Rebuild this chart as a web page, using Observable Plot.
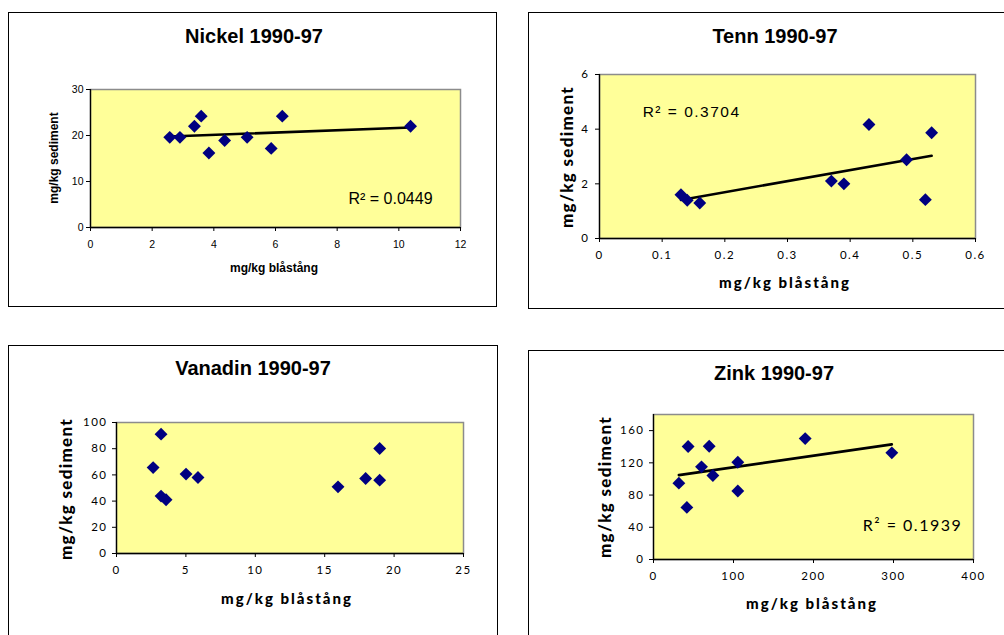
<!DOCTYPE html>
<html>
<head>
<meta charset="utf-8">
<script src="https://cdn.jsdelivr.net/npm/d3@7"></script>
<script src="https://cdn.jsdelivr.net/npm/@observablehq/plot@0.6"></script>
<style>
  body { margin: 0; background: #fff; }
  #page { position: relative; width: 1004px; height: 635px; overflow: hidden; background: #fff; }
  .panel { position: absolute; border: 1px solid #000; box-sizing: border-box; }
  .title { position: absolute; transform: translate(-50%, -50%); white-space: nowrap;
           font: bold 20px "Liberation Sans", Arial, sans-serif; color: #000; }
  .lab { position: absolute; white-space: nowrap; color: #000; font-weight: bold; }
  .ylab { transform: translate(-50%, -50%) rotate(-90deg); }
  .xlab { transform: translate(-50%, -50%); }
  .arial { font-family: "Liberation Sans", Arial, sans-serif; font-size: 12px; }
  .chart { position: absolute; }
</style>
</head>
<body>
<div id="page"></div>
<script>
// ---- data ----
const nickelX = [2.57, 2.9, 3.37, 3.59, 3.84, 4.35, 5.08, 5.86, 6.22, 10.38];
const nickelY = [19.6, 19.6, 22.0, 24.2, 16.2, 18.9, 19.6, 17.2, 24.2, 22.0];
const tennX = [0.13, 0.14, 0.16, 0.37, 0.39, 0.43, 0.49, 0.52, 0.53];
const tennY = [1.6, 1.4, 1.3, 2.1, 2.0, 4.17, 2.88, 1.42, 3.87];
const vanadinX = [2.64, 3.21, 3.21, 3.57, 5.01, 5.87, 15.96, 17.95, 18.96, 18.96];
const vanadinY = [65.6, 91.1, 43.8, 41.0, 60.6, 58.0, 50.9, 57.3, 80.2, 56.0];
const zinkX = [31.7, 41.7, 43.3, 60, 69.6, 74.2, 105.4, 105.4, 189.6, 297.9];
const zinkY = [94.8, 64.7, 140.2, 115, 140.6, 104.3, 120.8, 85, 150.1, 132.4];

const titles = ["Nickel 1990-97", "Tenn 1990-97", "Vanadin 1990-97", "Zink 1990-97"];
const xLabel = "mg/kg blåstång";
const yLabel = "mg/kg sediment";

const nickelXTicks = [0, 2, 4, 6, 8, 10, 12];
const nickelYTicks = [0, 10, 20, 30];
const tennXTicks = [0, 0.1, 0.2, 0.3, 0.4, 0.5, 0.6];
const tennYTicks = [0, 2, 4, 6];
const vanadinXTicks = [0, 5, 10, 15, 20, 25];
const vanadinYTicks = [0, 20, 40, 60, 80, 100];
const zinkXTicks = [0, 100, 200, 300, 400];
const zinkYTicks = [0, 40, 80, 120, 160];
const zinkYMax = 180;

// R² annotations (anchored in data units)
const nickelR2 = [{x: 9.73, y: 6.3, text: "R² = 0.0449"}];
const tennR2 = [{x: 0.147, y: 4.61, text: "R² = 0.3704"}];
const zinkR2 = [{x: 323.75, y: 42.2, text: "R² = 0.1939"}];

const page = document.getElementById("page");

function addDiv(cls, text, cx, cy, extra) {
  const d = document.createElement("div");
  d.className = cls;
  d.textContent = text;
  d.style.left = cx + "px";
  d.style.top = cy + "px";
  if (extra) Object.assign(d.style, extra);
  page.appendChild(d);
}

function panelBox(l, t, r, b) {
  const d = document.createElement("div");
  d.className = "panel";
  d.style.left = l + "px"; d.style.top = t + "px";
  d.style.width = (r - l) + "px"; d.style.height = (b - t) + "px";
  page.appendChild(d);
}

function chart(cfg) {
  const data = cfg.xs.map((x, i) => ({x, y: cfg.ys[i]}));
  const marks = [
    Plot.frame({fill: "#ffff99", stroke: "#8c8c8c", strokeWidth: 1.5}),
    Plot.ruleX([cfg.xDomain[0]], {stroke: "#000", strokeWidth: 1.3}),
    Plot.ruleY([cfg.yDomain[0]], {stroke: "#000", strokeWidth: 1.3}),
    Plot.axisX({ticks: cfg.xTicks, tickSize: 4, tickPadding: cfg.xPad, label: null,
                tickFormat: d => String(d), stroke: "#000"}),
    Plot.axisY({ticks: cfg.yTicks, tickSize: 4, tickPadding: cfg.yPad, label: null,
                tickFormat: d => String(d), stroke: "#000"})
  ];
  if (cfg.trend) {
    marks.push(Plot.linearRegressionY(data, {x: "x", y: "y", ci: 0, stroke: "#000", strokeWidth: 2.6}));
  }
  marks.push(Plot.dot(data, {x: "x", y: "y", symbol: "diamond2", r: 5.8, fill: "#000080", stroke: "none"}));
  if (cfg.r2) {
    marks.push(Plot.text(cfg.r2, {x: "x", y: "y", text: "text", fontSize: cfg.r2Size,
      fontFamily: cfg.r2Font, fill: "#000", textAnchor: "middle", letterSpacing: cfg.r2Spacing}));
  }
  const svg = Plot.plot({
    width: cfg.W, height: cfg.H,
    marginLeft: cfg.mL, marginRight: cfg.mR, marginTop: cfg.mT, marginBottom: cfg.mB,
    x: {domain: cfg.xDomain},
    y: {domain: cfg.yDomain},
    style: {fontFamily: cfg.font, fontSize: cfg.fontSize, letterSpacing: cfg.spacing, color: "#000", background: "transparent", overflow: "visible"},
    marks
  });
  svg.classList.add("chart");
  svg.style.left = cfg.sx + "px";
  svg.style.top = cfg.sy + "px";
  page.appendChild(svg);
}

// panel borders
panelBox(8, 12, 497, 307);
panelBox(528, 12, 1010, 309);
panelBox(8, 345, 498, 640);
panelBox(528, 350, 1010, 640);

const arialFont = '"Liberation Sans", Arial, sans-serif';
const gillFont = 'Lato, "Open Sans", sans-serif';

// Nickel: plot area x 90..460, y 89..227
chart({xs: nickelX, ys: nickelY, xDomain: [0, 12], yDomain: [0, 30],
  xTicks: nickelXTicks, yTicks: nickelYTicks,
  sx: 10, sy: 70, W: 480, H: 220, mL: 80, mR: 30, mT: 19, mB: 63,
  xPad: 9, yPad: 3, font: arialFont, fontSize: "10.5px", spacing: "0px",
  trend: true, r2: nickelR2, r2Size: 16, r2Font: arialFont, r2Spacing: "0px"});

// Tenn: plot area x 599..975, y 74..238
chart({xs: tennX, ys: tennY, xDomain: [0, 0.6], yDomain: [0, 6],
  xTicks: tennXTicks, yTicks: tennYTicks,
  sx: 530, sy: 55, W: 474, H: 230, mL: 69, mR: 29, mT: 19, mB: 47,
  xPad: 8, yPad: 6, font: gillFont, fontSize: "11.5px", spacing: "1.5px",
  trend: true, r2: tennR2, r2Size: 15.5, r2Font: arialFont, r2Spacing: "0px"});

// Vanadin: plot area x 116..463, y 422..553
chart({xs: vanadinX, ys: vanadinY, xDomain: [0, 25], yDomain: [0, 100],
  xTicks: vanadinXTicks, yTicks: vanadinYTicks,
  sx: 10, sy: 400, W: 485, H: 190, mL: 106, mR: 32, mT: 22, mB: 37,
  xPad: 8, yPad: 5, font: gillFont, fontSize: "11.5px", spacing: "1.5px",
  trend: false});

// Zink: plot area x 653..973, y 414..559
chart({xs: zinkX, ys: zinkY, xDomain: [0, 400], yDomain: [0, zinkYMax],
  xTicks: zinkXTicks, yTicks: zinkYTicks,
  sx: 530, sy: 395, W: 474, H: 200, mL: 123, mR: 31, mT: 19, mB: 36,
  xPad: 8, yPad: 5, font: gillFont, fontSize: "11.5px", spacing: "1.5px",
  trend: true, r2: zinkR2, r2Size: 16, r2Font: gillFont, r2Spacing: "1.5px"});

// titles
addDiv("title", titles[0], 254, 36);
addDiv("title", titles[1], 775, 36);
addDiv("title", titles[2], 253, 368);
addDiv("title", titles[3], 774, 373);

// axis labels
addDiv("lab xlab arial", xLabel, 274, 268);
addDiv("lab ylab arial", yLabel, 54, 158);
const gillX = {fontFamily: gillFont, fontSize: "15px", letterSpacing: "2px", fontWeight: "900"};
const gillY = {fontFamily: gillFont, fontSize: "17px", letterSpacing: "1.3px", fontWeight: "900"};
addDiv("lab xlab", xLabel, 785, 282, gillX);
addDiv("lab ylab", yLabel, 566, 157, gillY);
addDiv("lab xlab", xLabel, 287, 598, gillX);
addDiv("lab ylab", yLabel, 65, 489, gillY);
addDiv("lab xlab", xLabel, 812, 603, gillX);
addDiv("lab ylab", yLabel, 604, 487, gillY);
</script>
</body>
</html>
